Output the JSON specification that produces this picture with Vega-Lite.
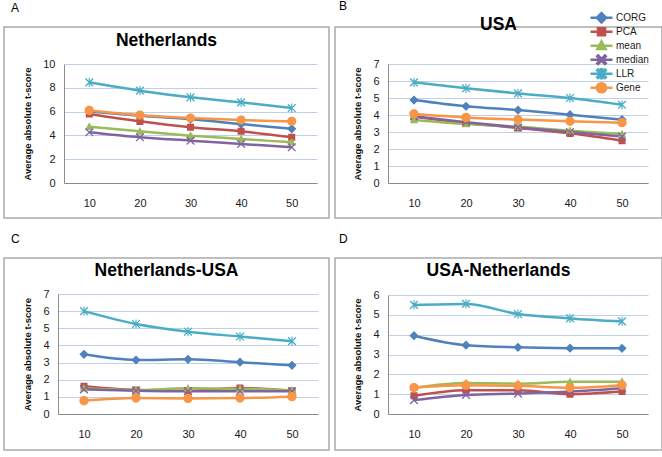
{
  "$schema": "https://vega.github.io/schema/vega-lite/v6.json",
  "padding": {"left": 3, "top": 0, "right": 0, "bottom": 0},
  "background": "white",
  "config": {
    "font": "Liberation Sans",
    "view": {"stroke": "#ababab", "strokeWidth": 1.5},
    "axis": {
      "labelFont": "Liberation Sans", "labelFontSize": 11, "labelColor": "#1a1a1a",
      "domainColor": "#8c8c8c", "domainWidth": 1, "ticks": false, "tickSize": 0,
      "gridColor": "#bfd0e8", "gridWidth": 1,
      "titleFont": "Liberation Sans", "titleFontSize": 9.5, "titleFontWeight": "bold", "titleColor": "#111111"
    },
    "axisX": {"grid": false, "labelPadding": 14, "labelAngle": 0},
    "axisY": {"grid": true, "labelPadding": 9, "titlePadding": 10, "labelAlign": "right", "labelBaseline": "middle"},
    "legend": {
      "padding": 0, "rowPadding": 0, "clipHeight": 13.5, "symbolSize": 484, "labelOffset": 2, "titlePadding": 0,
      "labelFont": "Liberation Sans", "labelFontSize": 10, "labelColor": "#1a1a1a", "labelBaseline": "middle"
    }
  },
  "datasets": {
    "d": [
      {"p":"A","s":"CORG","n":10,"v":6.0},{"p":"A","s":"CORG","n":20,"v":5.65},{"p":"A","s":"CORG","n":30,"v":5.35},{"p":"A","s":"CORG","n":40,"v":4.95},{"p":"A","s":"CORG","n":50,"v":4.55},
      {"p":"A","s":"PCA","n":10,"v":5.8},{"p":"A","s":"PCA","n":20,"v":5.18},{"p":"A","s":"PCA","n":30,"v":4.68},{"p":"A","s":"PCA","n":40,"v":4.34},{"p":"A","s":"PCA","n":50,"v":3.84},
      {"p":"A","s":"mean","n":10,"v":4.73},{"p":"A","s":"mean","n":20,"v":4.34},{"p":"A","s":"mean","n":30,"v":3.98},{"p":"A","s":"mean","n":40,"v":3.7},{"p":"A","s":"mean","n":50,"v":3.42},
      {"p":"A","s":"median","n":10,"v":4.26},{"p":"A","s":"median","n":20,"v":3.84},{"p":"A","s":"median","n":30,"v":3.56},{"p":"A","s":"median","n":40,"v":3.28},{"p":"A","s":"median","n":50,"v":3.0},
      {"p":"A","s":"LLR","n":10,"v":8.46},{"p":"A","s":"LLR","n":20,"v":7.76},{"p":"A","s":"LLR","n":30,"v":7.2},{"p":"A","s":"LLR","n":40,"v":6.78},{"p":"A","s":"LLR","n":50,"v":6.3},
      {"p":"A","s":"Gene","n":10,"v":6.1},{"p":"A","s":"Gene","n":20,"v":5.71},{"p":"A","s":"Gene","n":30,"v":5.46},{"p":"A","s":"Gene","n":40,"v":5.29},{"p":"A","s":"Gene","n":50,"v":5.18},

      {"p":"B","s":"CORG","n":10,"v":4.88},{"p":"B","s":"CORG","n":20,"v":4.51},{"p":"B","s":"CORG","n":30,"v":4.29},{"p":"B","s":"CORG","n":40,"v":4.02},{"p":"B","s":"CORG","n":50,"v":3.73},
      {"p":"B","s":"PCA","n":10,"v":3.9},{"p":"B","s":"PCA","n":20,"v":3.53},{"p":"B","s":"PCA","n":30,"v":3.24},{"p":"B","s":"PCA","n":40,"v":2.92},{"p":"B","s":"PCA","n":50,"v":2.49},
      {"p":"B","s":"mean","n":10,"v":3.71},{"p":"B","s":"mean","n":20,"v":3.47},{"p":"B","s":"mean","n":30,"v":3.31},{"p":"B","s":"mean","n":40,"v":3.08},{"p":"B","s":"mean","n":50,"v":2.88},
      {"p":"B","s":"median","n":10,"v":3.92},{"p":"B","s":"median","n":20,"v":3.57},{"p":"B","s":"median","n":30,"v":3.27},{"p":"B","s":"median","n":40,"v":3.0},{"p":"B","s":"median","n":50,"v":2.73},
      {"p":"B","s":"LLR","n":10,"v":5.92},{"p":"B","s":"LLR","n":20,"v":5.57},{"p":"B","s":"LLR","n":30,"v":5.27},{"p":"B","s":"LLR","n":40,"v":5.0},{"p":"B","s":"LLR","n":50,"v":4.6},
      {"p":"B","s":"Gene","n":10,"v":4.06},{"p":"B","s":"Gene","n":20,"v":3.86},{"p":"B","s":"Gene","n":30,"v":3.73},{"p":"B","s":"Gene","n":40,"v":3.63},{"p":"B","s":"Gene","n":50,"v":3.55},

      {"p":"C","s":"CORG","n":10,"v":3.48},{"p":"C","s":"CORG","n":20,"v":3.15},{"p":"C","s":"CORG","n":30,"v":3.19},{"p":"C","s":"CORG","n":40,"v":3.02},{"p":"C","s":"CORG","n":50,"v":2.84},
      {"p":"C","s":"PCA","n":10,"v":1.62},{"p":"C","s":"PCA","n":20,"v":1.4},{"p":"C","s":"PCA","n":30,"v":1.35},{"p":"C","s":"PCA","n":40,"v":1.52},{"p":"C","s":"PCA","n":50,"v":1.35},
      {"p":"C","s":"mean","n":10,"v":1.5},{"p":"C","s":"mean","n":20,"v":1.4},{"p":"C","s":"mean","n":30,"v":1.5},{"p":"C","s":"mean","n":40,"v":1.48},{"p":"C","s":"mean","n":50,"v":1.38},
      {"p":"C","s":"median","n":10,"v":1.44},{"p":"C","s":"median","n":20,"v":1.36},{"p":"C","s":"median","n":30,"v":1.33},{"p":"C","s":"median","n":40,"v":1.33},{"p":"C","s":"median","n":50,"v":1.32},
      {"p":"C","s":"LLR","n":10,"v":6.0},{"p":"C","s":"LLR","n":20,"v":5.25},{"p":"C","s":"LLR","n":30,"v":4.8},{"p":"C","s":"LLR","n":40,"v":4.52},{"p":"C","s":"LLR","n":50,"v":4.25},
      {"p":"C","s":"Gene","n":10,"v":0.78},{"p":"C","s":"Gene","n":20,"v":0.93},{"p":"C","s":"Gene","n":30,"v":0.91},{"p":"C","s":"Gene","n":40,"v":0.93},{"p":"C","s":"Gene","n":50,"v":1.01},

      {"p":"D","s":"CORG","n":10,"v":3.95},{"p":"D","s":"CORG","n":20,"v":3.47},{"p":"D","s":"CORG","n":30,"v":3.36},{"p":"D","s":"CORG","n":40,"v":3.32},{"p":"D","s":"CORG","n":50,"v":3.31},
      {"p":"D","s":"PCA","n":10,"v":0.92},{"p":"D","s":"PCA","n":20,"v":1.2},{"p":"D","s":"PCA","n":30,"v":1.2},{"p":"D","s":"PCA","n":40,"v":1.0},{"p":"D","s":"PCA","n":50,"v":1.13},
      {"p":"D","s":"mean","n":10,"v":1.32},{"p":"D","s":"mean","n":20,"v":1.56},{"p":"D","s":"mean","n":30,"v":1.53},{"p":"D","s":"mean","n":40,"v":1.62},{"p":"D","s":"mean","n":50,"v":1.63},
      {"p":"D","s":"median","n":10,"v":0.7},{"p":"D","s":"median","n":20,"v":0.96},{"p":"D","s":"median","n":30,"v":1.03},{"p":"D","s":"median","n":40,"v":1.13},{"p":"D","s":"median","n":50,"v":1.3},
      {"p":"D","s":"LLR","n":10,"v":5.5},{"p":"D","s":"LLR","n":20,"v":5.55},{"p":"D","s":"LLR","n":30,"v":5.04},{"p":"D","s":"LLR","n":40,"v":4.82},{"p":"D","s":"LLR","n":50,"v":4.67},
      {"p":"D","s":"Gene","n":10,"v":1.33},{"p":"D","s":"Gene","n":20,"v":1.45},{"p":"D","s":"Gene","n":30,"v":1.42},{"p":"D","s":"Gene","n":40,"v":1.32},{"p":"D","s":"Gene","n":50,"v":1.45}
    ]
  },
  "spacing": 14,
  "resolve": {"scale": {"color": "independent", "stroke": "independent", "shape": "independent"}},
  "vconcat": [
    {
      "spacing": 4,
      "resolve": {"scale": {"color": "independent", "stroke": "independent", "shape": "independent"}},
      "hconcat": [
        {
          "title": {"text": "A", "anchor": "start", "frame": "group", "fontSize": 12, "fontWeight": "normal", "font": "Liberation Sans", "color": "#000000", "dx": 7, "offset": 2, "baseline": "alphabetic"},
          "resolve": {"scale": {"color": "independent", "stroke": "independent", "shape": "independent"}},
          "vconcat": [
            {
              "width": 325, "height": 191,
              "title": {"text": "Netherlands", "anchor": "middle", "frame": "group", "fontSize": 17.5, "fontWeight": "bold", "font": "Liberation Sans", "color": "#000000", "offset": -36, "baseline": "alphabetic"},
              "data": {"name": "d"},
              "transform": [{"filter": "datum.p == 'A'"}],
              "encoding": {
                "x": {"field": "n", "type": "ordinal", "title": null, "scale": {"type": "point", "padding": 0.5, "range": [60, 313]}, "axis": {"offset": -35}},
                "y": {"field": "v", "type": "quantitative", "title": "Average absolute t-score", "scale": {"domain": [0, 10], "range": [156, 37], "nice": false}, "axis": {"offset": -60, "values": [0, 2, 4, 6, 8, 10]}}
              },
              "layer": [
                {"mark": {"type": "line", "strokeWidth": 2.5, "interpolate": "monotone"},
                 "encoding": {"stroke": {"field": "s", "type": "nominal", "legend": null, "scale": {"domain": ["CORG","PCA","mean","median","LLR","Gene"], "range": ["#4F81BD","#C0504D","#9BBB59","#8064A2","#4BACC6","#F79646"]}}}},
                {"mark": {"type": "point", "filled": true, "size": 484, "strokeWidth": 0, "opacity": 1},
                 "encoding": {
                   "color": {"field": "s", "type": "nominal", "legend": null, "scale": {"domain": ["CORG","PCA","mean","median","LLR","Gene"], "range": ["#4F81BD","#C0504D","#9BBB59","#8064A2","#4BACC6","#F79646"]}},
                   "shape": {"field": "s", "type": "nominal", "legend": null, "scale": {"domain": ["CORG","PCA","mean","median","LLR","Gene"], "range": [
                     "M-1,0H1M0,-0.42L0.42,0L0,0.42L-0.42,0Z",
                     "M-1,0H1M-0.32,-0.32H0.32V0.32H-0.32Z",
                     "M-1,0H1M0,-0.4L0.38,0.3H-0.38Z",
                     "M-1,0H1M-0.308,-0.392L0.392,0.308L0.308,0.392L-0.392,-0.308ZM0.308,-0.392L0.392,-0.308L-0.308,0.392L-0.392,0.308Z",
                     "M-1,0H1M-0.308,-0.392L0.392,0.308L0.308,0.392L-0.392,-0.308ZM0.308,-0.392L0.392,-0.308L-0.308,0.392L-0.392,0.308ZM-0.05,-0.42L0.05,-0.42L0.05,0.42L-0.05,0.42Z",
                     "M-1,0H1M-0.42,0A0.42,0.42 0 1,0 0.42,0A0.42,0.42 0 1,0 -0.42,0Z"]}}
                 }}
              ]
            }
          ]
        },
        {
          "title": {"text": "B", "anchor": "start", "frame": "group", "fontSize": 12, "fontWeight": "normal", "font": "Liberation Sans", "color": "#000000", "dx": 4, "offset": -12, "baseline": "alphabetic"},
          "resolve": {"scale": {"color": "independent", "stroke": "independent", "shape": "independent"}},
          "vconcat": [
            {
              "width": 327, "height": 191,
              "title": {"text": "USA", "anchor": "middle", "frame": "group", "fontSize": 17.5, "fontWeight": "bold", "font": "Liberation Sans", "color": "#000000", "offset": -36, "baseline": "alphabetic"},
              "data": {"name": "d"},
              "transform": [{"filter": "datum.p == 'B'"}],
              "encoding": {
                "x": {"field": "n", "type": "ordinal", "title": null, "scale": {"type": "point", "padding": 0.5, "range": [53, 313]}, "axis": {"offset": -35}},
                "y": {"field": "v", "type": "quantitative", "title": "Average absolute t-score", "scale": {"domain": [0, 7], "range": [156, 37], "nice": false}, "axis": {"offset": -53, "values": [0, 1, 2, 3, 4, 5, 6, 7]}}
              },
              "layer": [
                {"mark": {"type": "line", "strokeWidth": 2.5, "interpolate": "monotone"},
                 "encoding": {"stroke": {"field": "s", "type": "nominal",
                   "legend": {"title": null, "orient": "none", "legendX": 254, "legendY": -16,
                     "encode": {"symbols": {"update": {
                       "strokeWidth": {"value": 2.5}, "strokeOpacity": {"value": 1}, "opacity": {"value": 1}, "fillOpacity": {"value": 1},
                       "fill": {"signal": "datum.value == 'CORG' ? '#4F81BD' : datum.value == 'PCA' ? '#C0504D' : datum.value == 'mean' ? '#9BBB59' : datum.value == 'median' ? '#8064A2' : datum.value == 'LLR' ? '#4BACC6' : '#F79646'"},
                       "stroke": {"signal": "datum.value == 'CORG' ? '#4F81BD' : datum.value == 'PCA' ? '#C0504D' : datum.value == 'mean' ? '#9BBB59' : datum.value == 'median' ? '#8064A2' : datum.value == 'LLR' ? '#4BACC6' : '#F79646'"}
                     }}}},
                   "scale": {"domain": ["CORG","PCA","mean","median","LLR","Gene"], "range": ["#4F81BD","#C0504D","#9BBB59","#8064A2","#4BACC6","#F79646"]}}}},
                {"mark": {"type": "point", "filled": true, "size": 484, "strokeWidth": 0, "opacity": 1},
                 "encoding": {
                   "color": {"field": "s", "type": "nominal",
                     "legend": {"title": null, "orient": "none", "legendX": 254, "legendY": -16,
                       "encode": {"symbols": {"update": {
                         "strokeWidth": {"value": 2.5}, "strokeOpacity": {"value": 1}, "opacity": {"value": 1}, "fillOpacity": {"value": 1},
                         "fill": {"signal": "datum.value == 'CORG' ? '#4F81BD' : datum.value == 'PCA' ? '#C0504D' : datum.value == 'mean' ? '#9BBB59' : datum.value == 'median' ? '#8064A2' : datum.value == 'LLR' ? '#4BACC6' : '#F79646'"},
                         "stroke": {"signal": "datum.value == 'CORG' ? '#4F81BD' : datum.value == 'PCA' ? '#C0504D' : datum.value == 'mean' ? '#9BBB59' : datum.value == 'median' ? '#8064A2' : datum.value == 'LLR' ? '#4BACC6' : '#F79646'"}
                       }}}},
                     "scale": {"domain": ["CORG","PCA","mean","median","LLR","Gene"], "range": ["#4F81BD","#C0504D","#9BBB59","#8064A2","#4BACC6","#F79646"]}},
                   "shape": {"field": "s", "type": "nominal",
                     "legend": {"title": null, "orient": "none", "legendX": 254, "legendY": -16,
                       "encode": {"symbols": {"update": {
                         "strokeWidth": {"value": 2.5}, "strokeOpacity": {"value": 1}, "opacity": {"value": 1}, "fillOpacity": {"value": 1},
                         "fill": {"signal": "datum.value == 'CORG' ? '#4F81BD' : datum.value == 'PCA' ? '#C0504D' : datum.value == 'mean' ? '#9BBB59' : datum.value == 'median' ? '#8064A2' : datum.value == 'LLR' ? '#4BACC6' : '#F79646'"},
                         "stroke": {"signal": "datum.value == 'CORG' ? '#4F81BD' : datum.value == 'PCA' ? '#C0504D' : datum.value == 'mean' ? '#9BBB59' : datum.value == 'median' ? '#8064A2' : datum.value == 'LLR' ? '#4BACC6' : '#F79646'"}
                       }}}},
                     "scale": {"domain": ["CORG","PCA","mean","median","LLR","Gene"], "range": [
                     "M-1,0H1M0,-0.42L0.42,0L0,0.42L-0.42,0Z",
                     "M-1,0H1M-0.32,-0.32H0.32V0.32H-0.32Z",
                     "M-1,0H1M0,-0.4L0.38,0.3H-0.38Z",
                     "M-1,0H1M-0.308,-0.392L0.392,0.308L0.308,0.392L-0.392,-0.308ZM0.308,-0.392L0.392,-0.308L-0.308,0.392L-0.392,0.308Z",
                     "M-1,0H1M-0.308,-0.392L0.392,0.308L0.308,0.392L-0.392,-0.308ZM0.308,-0.392L0.392,-0.308L-0.308,0.392L-0.392,0.308ZM-0.05,-0.42L0.05,-0.42L0.05,0.42L-0.05,0.42Z",
                     "M-1,0H1M-0.42,0A0.42,0.42 0 1,0 0.42,0A0.42,0.42 0 1,0 -0.42,0Z"]}}
                 }}
              ]
            }
          ]
        }
      ]
    },
    {
      "spacing": 4,
      "resolve": {"scale": {"color": "independent", "stroke": "independent", "shape": "independent"}},
      "hconcat": [
        {
          "title": {"text": "C", "anchor": "start", "frame": "group", "fontSize": 12, "fontWeight": "normal", "font": "Liberation Sans", "color": "#000000", "dx": 7, "offset": 2, "baseline": "alphabetic"},
          "resolve": {"scale": {"color": "independent", "stroke": "independent", "shape": "independent"}},
          "vconcat": [
            {
              "width": 325, "height": 192,
              "title": {"text": "Netherlands-USA", "anchor": "middle", "frame": "group", "fontSize": 17.5, "fontWeight": "bold", "font": "Liberation Sans", "color": "#000000", "offset": -35, "baseline": "alphabetic"},
              "data": {"name": "d"},
              "transform": [{"filter": "datum.p == 'C'"}],
              "encoding": {
                "x": {"field": "n", "type": "ordinal", "title": null, "scale": {"type": "point", "padding": 0.5, "range": [54, 314]}, "axis": {"offset": -36}},
                "y": {"field": "v", "type": "quantitative", "title": "Average absolute t-score", "scale": {"domain": [0, 7], "range": [156, 36], "nice": false}, "axis": {"offset": -54, "values": [0, 1, 2, 3, 4, 5, 6, 7]}}
              },
              "layer": [
                {"mark": {"type": "line", "strokeWidth": 2.5, "interpolate": "monotone"},
                 "encoding": {"stroke": {"field": "s", "type": "nominal", "legend": null, "scale": {"domain": ["CORG","PCA","mean","median","LLR","Gene"], "range": ["#4F81BD","#C0504D","#9BBB59","#8064A2","#4BACC6","#F79646"]}}}},
                {"mark": {"type": "point", "filled": true, "size": 484, "strokeWidth": 0, "opacity": 1},
                 "encoding": {
                   "color": {"field": "s", "type": "nominal", "legend": null, "scale": {"domain": ["CORG","PCA","mean","median","LLR","Gene"], "range": ["#4F81BD","#C0504D","#9BBB59","#8064A2","#4BACC6","#F79646"]}},
                   "shape": {"field": "s", "type": "nominal", "legend": null, "scale": {"domain": ["CORG","PCA","mean","median","LLR","Gene"], "range": [
                     "M-1,0H1M0,-0.42L0.42,0L0,0.42L-0.42,0Z",
                     "M-1,0H1M-0.32,-0.32H0.32V0.32H-0.32Z",
                     "M-1,0H1M0,-0.4L0.38,0.3H-0.38Z",
                     "M-1,0H1M-0.308,-0.392L0.392,0.308L0.308,0.392L-0.392,-0.308ZM0.308,-0.392L0.392,-0.308L-0.308,0.392L-0.392,0.308Z",
                     "M-1,0H1M-0.308,-0.392L0.392,0.308L0.308,0.392L-0.392,-0.308ZM0.308,-0.392L0.392,-0.308L-0.308,0.392L-0.392,0.308ZM-0.05,-0.42L0.05,-0.42L0.05,0.42L-0.05,0.42Z",
                     "M-1,0H1M-0.42,0A0.42,0.42 0 1,0 0.42,0A0.42,0.42 0 1,0 -0.42,0Z"]}}
                 }}
              ]
            }
          ]
        },
        {
          "title": {"text": "D", "anchor": "start", "frame": "group", "fontSize": 12, "fontWeight": "normal", "font": "Liberation Sans", "color": "#000000", "dx": 4, "offset": 2, "baseline": "alphabetic"},
          "resolve": {"scale": {"color": "independent", "stroke": "independent", "shape": "independent"}},
          "vconcat": [
            {
              "width": 327, "height": 192,
              "title": {"text": "USA-Netherlands", "anchor": "middle", "frame": "group", "fontSize": 17.5, "fontWeight": "bold", "font": "Liberation Sans", "color": "#000000", "offset": -35, "baseline": "alphabetic"},
              "data": {"name": "d"},
              "transform": [{"filter": "datum.p == 'D'"}],
              "encoding": {
                "x": {"field": "n", "type": "ordinal", "title": null, "scale": {"type": "point", "padding": 0.5, "range": [53, 313]}, "axis": {"offset": -36}},
                "y": {"field": "v", "type": "quantitative", "title": "Average absolute t-score", "scale": {"domain": [0, 6], "range": [156, 37], "nice": false}, "axis": {"offset": -53, "values": [0, 1, 2, 3, 4, 5, 6]}}
              },
              "layer": [
                {"mark": {"type": "line", "strokeWidth": 2.5, "interpolate": "monotone"},
                 "encoding": {"stroke": {"field": "s", "type": "nominal", "legend": null, "scale": {"domain": ["CORG","PCA","mean","median","LLR","Gene"], "range": ["#4F81BD","#C0504D","#9BBB59","#8064A2","#4BACC6","#F79646"]}}}},
                {"mark": {"type": "point", "filled": true, "size": 484, "strokeWidth": 0, "opacity": 1},
                 "encoding": {
                   "color": {"field": "s", "type": "nominal", "legend": null, "scale": {"domain": ["CORG","PCA","mean","median","LLR","Gene"], "range": ["#4F81BD","#C0504D","#9BBB59","#8064A2","#4BACC6","#F79646"]}},
                   "shape": {"field": "s", "type": "nominal", "legend": null, "scale": {"domain": ["CORG","PCA","mean","median","LLR","Gene"], "range": [
                     "M-1,0H1M0,-0.42L0.42,0L0,0.42L-0.42,0Z",
                     "M-1,0H1M-0.32,-0.32H0.32V0.32H-0.32Z",
                     "M-1,0H1M0,-0.4L0.38,0.3H-0.38Z",
                     "M-1,0H1M-0.308,-0.392L0.392,0.308L0.308,0.392L-0.392,-0.308ZM0.308,-0.392L0.392,-0.308L-0.308,0.392L-0.392,0.308Z",
                     "M-1,0H1M-0.308,-0.392L0.392,0.308L0.308,0.392L-0.392,-0.308ZM0.308,-0.392L0.392,-0.308L-0.308,0.392L-0.392,0.308ZM-0.05,-0.42L0.05,-0.42L0.05,0.42L-0.05,0.42Z",
                     "M-1,0H1M-0.42,0A0.42,0.42 0 1,0 0.42,0A0.42,0.42 0 1,0 -0.42,0Z"]}}
                 }}
              ]
            }
          ]
        }
      ]
    }
  ]
}
